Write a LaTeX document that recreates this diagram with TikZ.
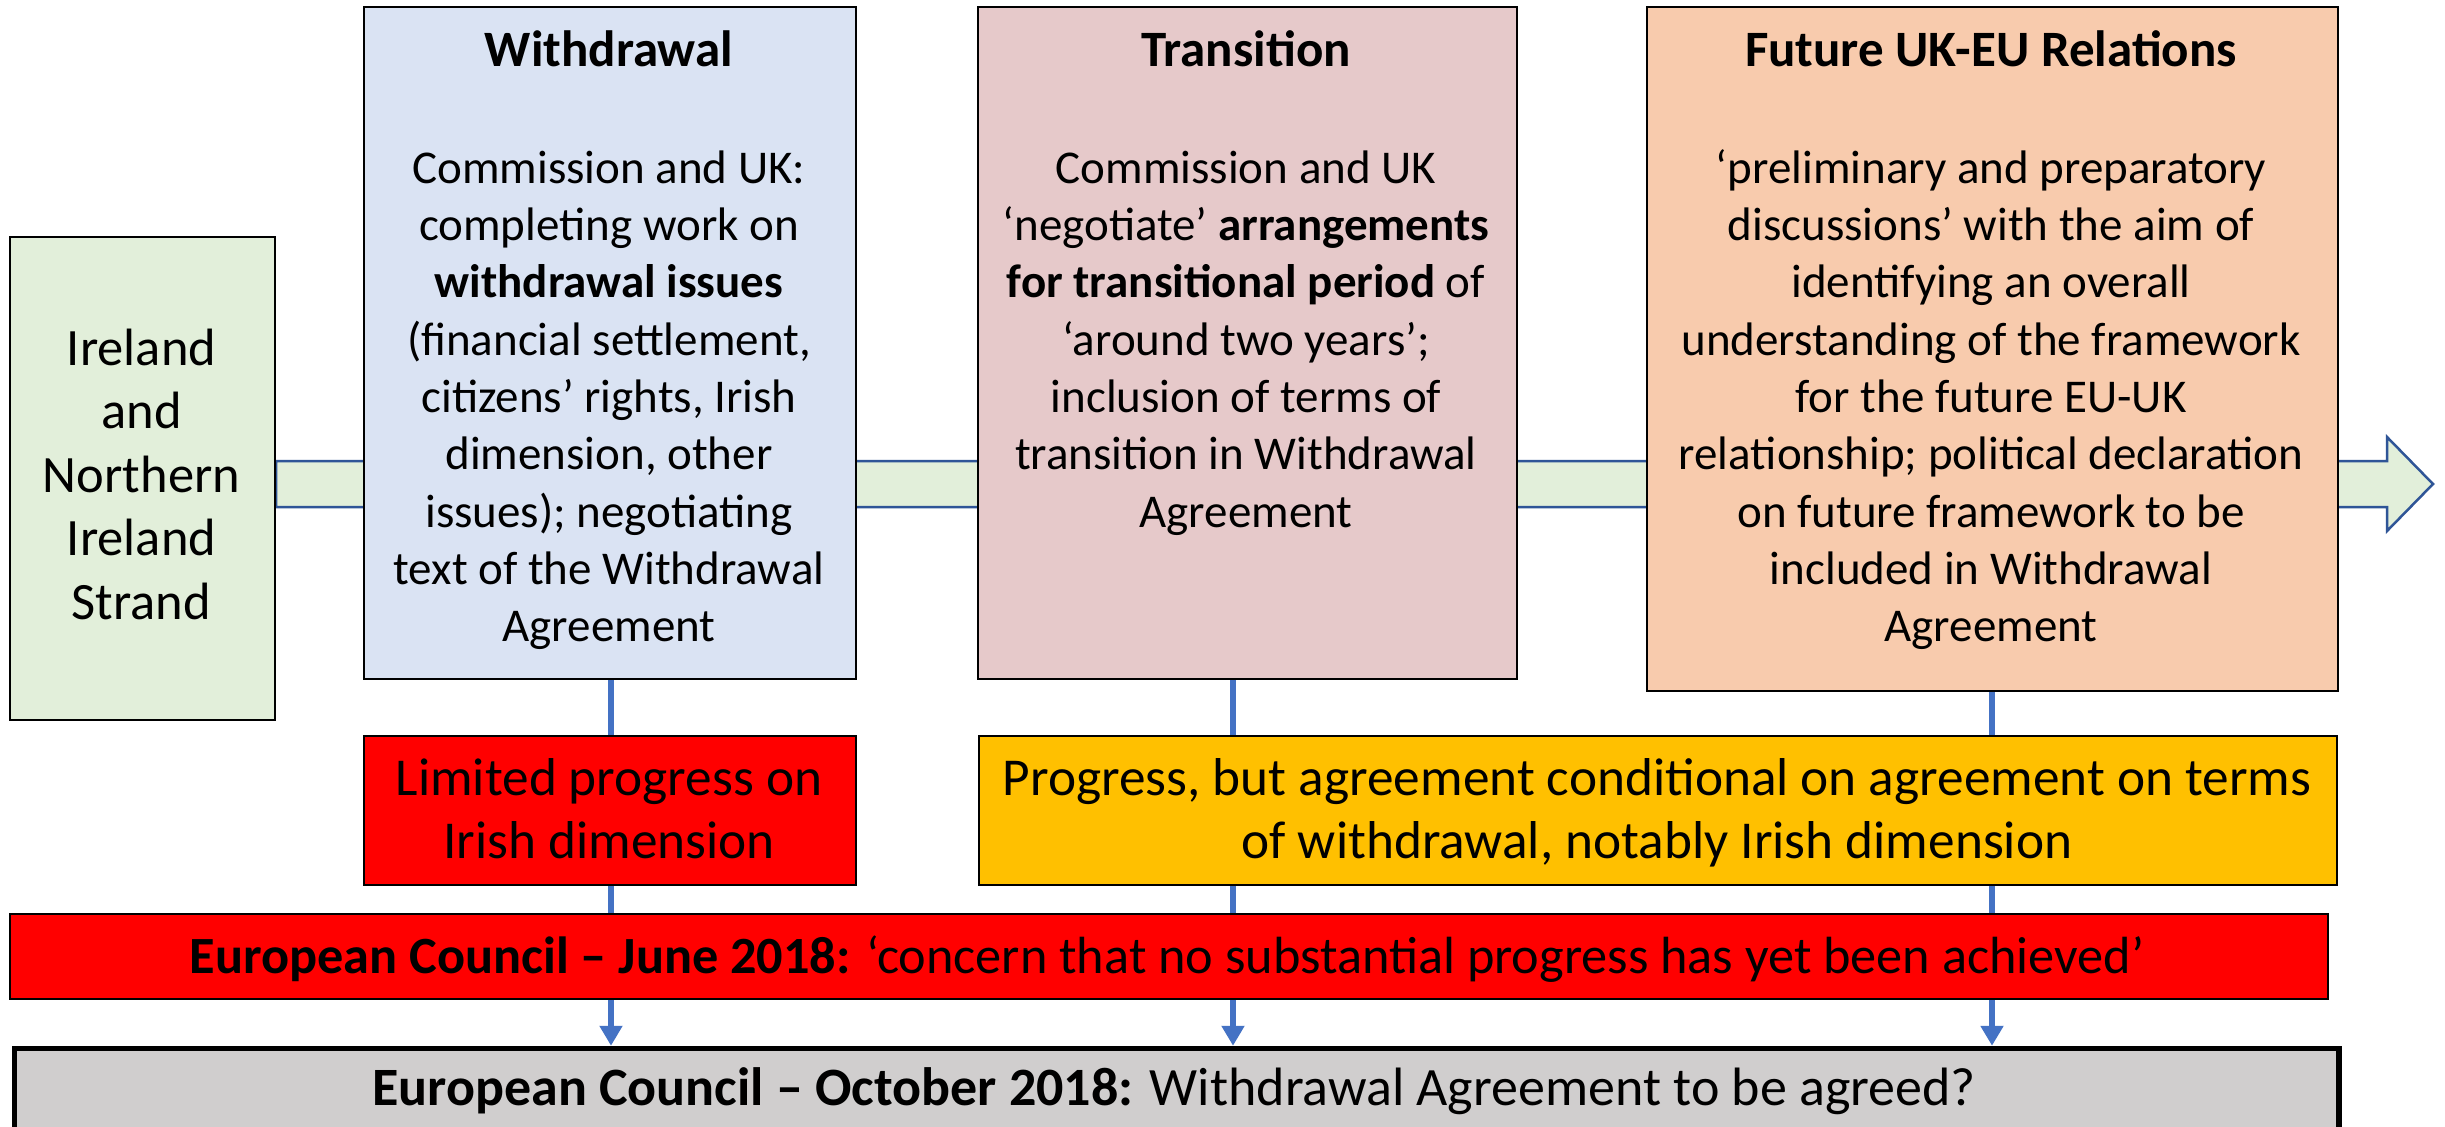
\documentclass[tikz,border=0pt]{standalone}
\usepackage{fontspec}
\setmainfont{Carlito}
\usetikzlibrary{arrows.meta,calc}
\definecolor{grn}{HTML}{E2EFDA}
\definecolor{bandline}{HTML}{2F5597}
\definecolor{wblue}{HTML}{DAE3F3}
\definecolor{tpink}{HTML}{E6C9CA}
\definecolor{forange}{HTML}{F8CBAD}
\definecolor{bred}{HTML}{FF0000}
\definecolor{byellow}{HTML}{FFC000}
\definecolor{bgray}{HTML}{D0CECE}
\definecolor{lineblue}{HTML}{4472C4}
\begin{document}
\begin{tikzpicture}[x=1pt,y=-1pt,
  box/.style={draw=black, line width=2pt, inner sep=0pt, anchor=north west},
  ttl/.style={font=\bfseries\fontsize{51}{60}\selectfont, anchor=base, inner sep=0pt},
  body/.style={font=\fontsize{47}{57.3}\selectfont, align=center, anchor=north, inner sep=0pt},
  big/.style={font=\fontsize{53.3}{63.5}\selectfont, align=center, anchor=north, inner sep=0pt},
  ire/.style={font=\fontsize{52.5}{63.5}\selectfont, align=center, anchor=north, inner sep=0pt},
  conn/.style={draw=lineblue, line width=6pt, -{Triangle[length=20pt,width=22pt]}},
]
\useasboundingbox (0,0) rectangle (2445,1127);
\fill[white] (0,0) rectangle (2445,1127);

% box outlines as named anchors (invisible), used by the band and the connectors
\path (9,236) node[box, minimum width=265, minimum height=483, draw=none] (ire) {};
\path (363,6) node[box, minimum width=492, minimum height=672, draw=none] (wd) {};
\path (977,6) node[box, minimum width=539, minimum height=672, draw=none] (tr) {};
\path (1646,6) node[box, minimum width=691, minimum height=684, draw=none] (fu) {};
\path (11.75,1045.75) node[box, minimum width=2324.5, minimum height=120, draw=none] (oct) {};

% horizontal block arrow behind the boxes
\coordinate (bandstart) at (ire.east |- 0,461);
\draw[fill=grn, draw=bandline, line width=2.5pt, line join=miter]
  (bandstart) -- (2387,461) -- (2387,437) -- (2433,484) -- (2387,531) -- (2387,507)
  -- (ire.east |- 0,507) -- cycle;

% connectors
\draw[conn] ([xshift=1pt]wd.south) -- ([xshift=1pt]wd.south |- oct.north);
\draw[conn] ([xshift=-14.5pt]tr.south) -- ([xshift=-14.5pt]tr.south |- oct.north);
\draw[conn] ([xshift=-0.5pt]fu.south) -- ([xshift=-0.5pt]fu.south |- oct.north);

% visible boxes
\path (9,236) node[box, fill=grn, minimum width=265, minimum height=483] (ireB) {};
\path (363,6) node[box, fill=wblue, minimum width=492, minimum height=672] (wdB) {};
\path (977,6) node[box, fill=tpink, minimum width=539, minimum height=672] (trB) {};
\path (1646,6) node[box, fill=forange, minimum width=691, minimum height=684] (fuB) {};
\path (363,735) node[box, fill=bred, minimum width=492, minimum height=149] (limB) {};
\path (978,735) node[box, fill=byellow, minimum width=1358, minimum height=149] (progB) {};
\path (9,913) node[box, fill=bred, minimum width=2318, minimum height=85] (juneB) {};
\path (11.75,1045.75) node[box, fill=bgray, line width=5.5pt, minimum width=2324.5, minimum height=120] (octB) {};

% texts
\node[ire] (iret) at (141.5,321) {\rule{0pt}{44pt}Ireland\\and\\Northern\\Ireland\\Strand};

\node[ttl] (wdt) at (609,66) {Withdrawal};
\node[body] (wdx) at (609,141) {\rule{0pt}{42pt}Commission and UK:\\completing work on\\\textbf{withdrawal issues}\\(financial settlement,\\citizens’ rights, Irish\\dimension, other\\issues); negotiating\\text of the Withdrawal\\Agreement};

\node[ttl] (trt) at (1246,66) {Transition};
\node[body] (trx) at (1246,141) {\rule{0pt}{42pt}Commission and UK\\‘negotiate’ \textbf{arrangements}\\\textbf{for transitional period} of\\‘around two years’;\\inclusion of terms of\\transition in Withdrawal\\Agreement};

\node[ttl] (fut) at (1991,66) {Future UK-EU Relations};
\node[body] (fux) at (1991,141) {\rule{0pt}{42pt}‘preliminary and preparatory\\discussions’ with the aim of\\identifying an overall\\understanding of the framework\\for the future EU-UK\\relationship; political declaration\\on future framework to be\\included in Withdrawal\\Agreement};

\node[big] (limt) at (609,751) {\rule{0pt}{44pt}Limited progress on\\Irish dimension};
\node[big] (progt) at (1657,751) {\rule{0pt}{44pt}Progress, but agreement conditional on agreement on terms\\of withdrawal, notably Irish dimension};

\node[font=\fontsize{52.3}{60}\selectfont, anchor=base, inner sep=0pt] (junet) at (1167,973) {\textbf{European Council – June 2018:} ‘concern that no substantial progress has yet been achieved’};
\node[font=\fontsize{54}{62}\selectfont, anchor=base, inner sep=0pt] (octt) at (1174,1105) {\textbf{European Council – October 2018:} Withdrawal Agreement to be agreed?};
\end{tikzpicture}
\end{document}
